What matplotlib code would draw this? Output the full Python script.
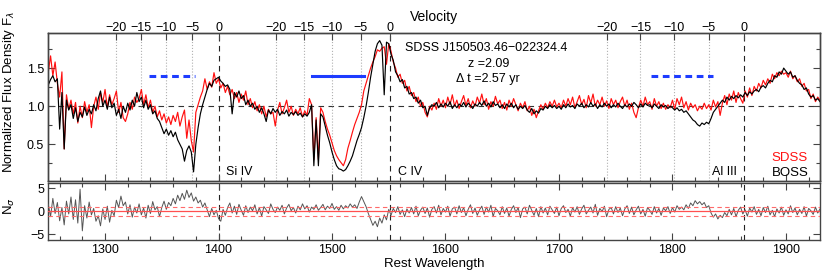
import numpy as np
import matplotlib
matplotlib.use('Agg')
import matplotlib.pyplot as plt
from matplotlib.ticker import MultipleLocator, FixedLocator, NullLocator

plt.rcParams['font.family'] = ['Liberation Sans', 'DejaVu Sans']

# ---------------- data ----------------
wl_start = 1250.0   # Angstrom, rest frame
wl_step = 2.0

boss = [
    1.28, 1.35, 1.40, 1.32, 1.36, 0.70, 1.18, 0.44, 1.08, 0.95,
    1.02, 0.84, 0.98, 0.80, 0.92, 0.86, 0.99, 0.88, 0.96, 0.90,
    1.02, 0.94, 1.10, 1.20, 1.00, 1.08, 0.96, 1.12, 0.98, 1.04,
    0.88, 0.96, 0.84, 1.00, 0.92, 1.04, 0.95, 1.08, 1.00, 1.18,
    1.06, 1.12, 0.98, 1.08, 0.96, 1.02, 0.90, 0.94, 0.84, 0.80,
    0.72, 0.64, 0.70, 0.62, 0.68, 0.60, 0.66, 0.56, 0.50, 0.44,
    0.28, 0.42, 0.48, 0.40, 0.14, 0.50, 0.72, 0.90, 1.02, 1.12,
    1.22, 1.30, 1.26, 1.34, 1.36, 1.38, 1.33, 1.30, 1.26, 1.28,
    1.22, 0.90, 1.18, 1.12, 1.20, 1.10, 1.14, 1.02, 1.08, 1.00,
    1.04, 0.96, 1.00, 0.92, 0.98, 0.90, 0.80, 0.95, 0.90, 0.97,
    0.92, 0.96, 0.88, 0.93, 0.90, 0.95, 0.87, 0.92, 0.89, 0.93,
    0.88, 0.91, 0.86, 0.90, 0.87, 0.92, 1.02, 0.22, 0.82, 0.22,
    0.90, 0.86, 0.74, 0.62, 0.52, 0.40, 0.30, 0.22, 0.18, 0.17,
    0.15, 0.17, 0.22, 0.28, 0.35, 0.45, 0.55, 0.63, 0.72, 0.85,
    1.00, 1.18, 1.38, 1.55, 1.72, 1.82, 1.86, 1.80, 1.15, 1.84,
    1.82, 1.68, 1.60, 1.45, 1.40, 1.32, 1.35, 1.24, 1.26, 1.16,
    1.18, 1.10, 1.12, 1.04, 1.08, 0.98, 1.00, 0.88, 0.98, 1.02,
    1.00, 1.05, 0.98, 1.03, 0.99, 1.04, 1.00, 1.06, 0.97, 1.02,
    0.98, 1.03, 1.00, 1.05, 0.99, 1.04, 1.01, 0.97, 1.03, 1.00,
    1.05, 1.01, 1.07, 1.00, 1.04, 0.99, 1.06, 1.01, 1.03, 0.98,
    1.02, 0.97, 1.03, 0.99, 1.04, 0.98, 1.02, 0.96, 1.00, 0.97,
    1.01, 0.95, 0.92, 0.97, 0.90, 0.94, 0.91, 0.97, 0.95, 1.00,
    0.97, 1.02, 0.98, 1.01, 0.97, 1.00, 0.96, 1.02, 0.98, 1.03,
    0.99, 1.01, 0.97, 1.03, 1.00, 1.04, 0.98, 1.02, 0.99, 1.05,
    1.00, 1.03, 0.97, 1.02, 0.99, 1.04, 1.00, 1.03, 0.98, 1.02,
    0.99, 1.04, 1.00, 0.97, 1.02, 0.99, 1.03, 1.00, 1.05, 1.02,
    0.98, 1.03, 0.99, 1.04, 1.01, 1.02, 0.98, 1.03, 1.00, 0.97,
    1.02, 0.99, 1.01, 0.97, 1.00, 0.98, 0.95, 0.98, 0.94, 0.96,
    0.92, 0.94, 0.90, 0.86, 0.82, 0.80, 0.76, 0.74, 0.78, 0.76,
    0.79, 0.77, 0.84, 0.92, 0.96, 1.00, 1.04, 1.08, 1.05, 1.12,
    1.08, 1.13, 1.10, 1.14, 1.11, 1.15, 1.12, 1.18, 1.14, 1.19,
    1.16, 1.20, 1.22, 1.19, 1.25, 1.27, 1.24, 1.30, 1.34, 1.32,
    1.40, 1.38, 1.45, 1.42, 1.50, 1.46, 1.42, 1.45, 1.38, 1.40,
    1.34, 1.30, 1.28, 1.22, 1.24, 1.16, 1.12, 1.14, 1.08, 1.10,
    1.06,
]

sdss = [
    1.45, 1.66, 1.40, 1.58, 1.30, 1.12, 1.45, 0.44, 1.15, 0.96,
    1.08, 0.90, 1.05, 0.78, 1.00, 0.85, 1.06, 0.92, 1.02, 0.72,
    1.00, 1.12, 0.96, 1.18, 1.05, 1.22, 0.98, 1.15, 1.02, 1.10,
    1.20, 0.92, 1.05, 0.85, 0.80, 0.90, 1.05, 0.96, 1.12, 1.05,
    1.10, 1.22, 1.02, 1.15, 0.98, 1.08, 0.92, 1.00, 0.86, 0.94,
    0.82, 0.90, 0.78, 0.86, 0.76, 0.88, 0.80, 0.92, 0.74, 0.86,
    0.95, 0.58, 0.82, 0.55, 0.40, 0.92, 1.02, 1.12, 1.20, 1.36,
    1.22, 1.32, 1.25, 1.44, 1.30, 1.36, 1.24, 1.30, 1.18, 1.26,
    1.15, 1.22, 1.10, 1.18, 1.05, 1.16, 1.08, 1.20, 1.02, 1.10,
    0.98, 1.06, 0.94, 1.02, 0.90, 1.00, 0.86, 0.96, 0.90, 0.92,
    0.74, 0.95, 1.05, 0.90, 0.98, 1.08, 0.92, 1.00, 0.88, 0.96,
    0.90, 0.98, 0.86, 0.94, 0.88, 1.10, 1.02, 0.30, 0.85, 0.30,
    0.98, 0.92, 0.80, 0.70, 0.62, 0.52, 0.42, 0.35, 0.30, 0.26,
    0.22, 0.30, 0.45, 0.55, 0.66, 0.76, 0.84, 0.92, 1.02, 1.20,
    1.30, 1.40, 1.50, 1.58, 1.65, 1.74, 1.72, 1.76, 1.78, 1.55,
    1.82, 1.72, 1.58, 1.50, 1.38, 1.42, 1.30, 1.34, 1.20, 1.26,
    1.14, 1.18, 1.06, 1.12, 1.00, 1.05, 0.92, 0.86, 1.00, 0.95,
    1.04, 0.96, 1.10, 1.00, 1.08, 0.98, 1.12, 1.02, 1.15, 1.00,
    1.08, 0.97, 1.06, 1.14, 1.01, 1.10, 0.98, 1.07, 1.00, 1.12,
    1.04, 1.16, 1.02, 1.10, 0.96, 1.06, 1.00, 1.13, 1.03, 1.08,
    0.97, 1.05, 0.95, 1.08, 1.00, 1.10, 1.02, 0.94, 1.04, 0.98,
    1.06, 0.94, 1.00, 0.88, 0.96, 0.85, 0.94, 1.02, 0.96, 1.04,
    0.98, 1.06, 1.00, 1.08, 0.99, 1.04, 0.98, 1.08, 1.00, 1.10,
    1.02, 1.12, 0.98, 1.06, 1.14, 1.02, 1.09, 0.98, 1.14, 1.04,
    1.16, 1.00, 1.08, 1.02, 1.12, 1.00, 1.07, 0.97, 1.10, 1.02,
    1.08, 0.98, 1.06, 1.12, 1.00, 1.08, 0.96, 1.04, 0.92, 0.85,
    0.98, 1.08, 1.00, 1.12, 1.02, 1.06, 0.96, 1.10, 1.00, 1.06,
    0.97, 1.04, 0.96, 1.02, 0.98, 1.08, 0.96, 1.10, 1.02, 1.12,
    0.98, 1.06, 0.95, 1.04, 0.98, 1.02, 0.94, 1.00, 0.96, 1.04,
    0.97, 1.02, 0.95, 1.08, 0.99, 1.06, 0.88, 1.04, 1.14, 1.02,
    1.16, 1.08, 1.20, 1.05, 1.18, 1.10, 1.04, 1.20, 1.12, 1.24,
    1.14, 1.26, 1.20, 1.30, 1.24, 1.34, 1.28, 1.36, 1.30, 1.42,
    1.36, 1.44, 1.40, 1.46, 1.42, 1.44, 1.38, 1.46, 1.36, 1.40,
    1.32, 1.36, 1.26, 1.30, 1.20, 1.22, 1.10, 1.16, 1.06, 1.12,
    1.08,
]

nsigma = [
    1.5, -1.2, 2.8, -0.5, 1.9, -2.1, 0.8, -3.0, 2.2, -0.6,
    3.1, -1.8, 2.5, -2.6, 4.8, -4.3, 1.2, -1.5, 2.0, -0.8,
    0.6, -2.2, -1.0, -3.2, 0.5, -1.8, 1.1, -2.4, 0.2, -1.0,
    2.4, 0.8, 3.3, 1.2, 2.0, -0.6, 1.4, -1.3, 0.9, -0.4,
    1.6, -0.8, 0.7, -1.5, 1.3, -0.5, 2.1, 0.3, 1.0, -1.2,
    0.8, 2.2, 0.4, 1.9, 1.2, 2.8, 1.6, 3.5, 2.3, 3.9,
    2.6, 4.6, 3.0, 4.0, 2.2, 3.1, 1.8, 2.4, 0.9, 1.8,
    0.3, -1.2, 0.6, -0.8, 0.2, -1.6, -2.2, 0.4, -0.9, 0.8,
    1.8, -0.4, 1.1, -0.7, 1.5, 0.2, -0.9, 1.2, -0.3, 0.9,
    0.1, 1.4, -0.6, 0.8, -1.1, 1.0, 0.3, -0.5, 1.6, 0.4,
    -0.3, 0.9, 0.2, 1.3, -0.6, 0.7, 1.5, 0.1, 0.8, -0.4,
    1.1, 0.3, 1.6, 0.5, 1.2, -0.2, 0.9, 0.4, 1.4, 0.2,
    0.8, 1.5, 0.3, 1.1, 0.6, 1.7, 0.4, 1.0, 0.2, 1.3,
    0.5, 1.2, 0.7, 1.6, 0.9, 1.4, 0.6, 2.0, 3.2, 2.1,
    1.0, -0.5, -1.8, -3.1, -2.2, -3.4, -1.5, -2.6, -0.8, -1.9,
    0.4, -0.9, 0.6, -0.3, 1.0, -0.7, 0.3, -1.2, 0.5, -0.4,
    0.8, -0.6, 1.1, -1.0, 0.2, 0.9, -0.5, 0.7, -1.3, 0.4,
    1.0, -0.4, 1.3, -0.8, 0.6, -0.2, 1.1, -1.1, 0.5, 0.9,
    -0.6, 1.2, -0.3, 0.8, -1.0, 0.4, 1.4, -0.5, 0.7, -0.9,
    0.3, 1.1, -0.7, 0.9, -0.2, 1.3, -1.2, 0.6, 0.1, -0.8,
    1.0, -0.5, 0.7, -1.1, 0.4, 1.2, -0.3, 0.8, -1.4, 0.5,
    0.9, -0.6, 1.3, 0.2, -0.9, 0.6, -1.2, 1.0, -0.4, 0.7,
    -0.8, 1.1, 0.3, -0.5, 0.9, -1.0, 0.6, 1.2, -0.3, 0.4,
    -1.1, 0.8, -0.2, 1.0, -0.7, 0.5, 1.3, -0.6, 0.2, 0.9,
    -0.4, 1.5, -0.9, 0.6, -0.1, 1.1, -1.2, 0.4, 0.8, -0.6,
    1.0, -0.3, 0.7, -1.0, 0.5, 1.2, -0.5, 0.9, -0.8, 0.3,
    1.1, -0.6, 0.4, -1.1, 0.8, 0.2, -0.7, 1.0, -0.4, 0.6,
    -0.9, 0.7, 0.1, 1.0, -0.5, 0.8, -0.2, 1.2, 0.4, 0.9,
    0.3, 1.4, 0.6, 1.8, 1.2, 2.3, 1.6, 2.1, 1.4, 1.9,
    0.8, 1.2, -0.4, -1.3, -0.6, -1.7, -0.9, -1.4, -0.3, -1.0,
    0.4, -0.8, 0.6, -1.2, 0.2, 0.9, -0.6, 0.3, -1.1, 0.7,
    -0.2, 1.0, -0.7, 0.4, -1.0, 0.8, -0.3, 1.1, -0.8, 0.2,
    -1.2, 0.5, -0.4, 0.9, -0.9, 0.3, -0.6, 1.2, -0.3, 0.7,
    -0.8, 0.4, -0.5, 1.0, -1.1, 0.6, 0.1, -0.7, 0.9, -0.4,
    0.5,
]

line_names = ['Si IV', 'C IV', 'Al III']
line_rest = [1400.0, 1550.77, 1862.79]          # Angstrom
vel_ticks = [-20, -15, -10, -5, 0]               # 1000 km/s
bal_vel = [-13.5, -4.4]                          # 1000 km/s
bal_styles = ['--', '-', '--']
obj_name = 'SDSS J150503.46\u2212022324.4'
z_text = 'z =2.09'
dt_text = '\u0394 t =2.57 yr'

# ---------------- helpers ----------------
C_KMS = 299792.458


def vel_to_wave(v_kkms, lam0):
    b = np.asarray(v_kkms, dtype=float) * 1000.0 / C_KMS
    return lam0 * np.sqrt((1 + b) / (1 - b))


n = min(len(boss), len(sdss), len(nsigma))
wave = wl_start + wl_step * np.arange(n)
boss_a = np.asarray(boss[:n])
sdss_a = np.asarray(sdss[:n])
ns_a = np.asarray(nsigma[:n])

W, H = 830, 278
fig = plt.figure(figsize=(W / 100, H / 100), dpi=100)
x0, x1 = 48.3, 820.0
ax1 = fig.add_axes([x0 / W, 1 - 181 / H, (x1 - x0) / W, 148 / H])
ax2 = fig.add_axes([x0 / W, 1 - 240 / H, (x1 - x0) / W, (240 - 183.3) / H])

frame_c = '#444444'
xlim = (1250, 1930)

# ---------------- top panel ----------------
ax1.set_xlim(xlim)
ax1.set_ylim(0.02, 1.96)
ax1.axhline(1.0, color='#333333', ls=(0, (5, 4)), lw=0.8, zorder=1)
for name, lam0 in zip(line_names, line_rest):
    for v in vel_ticks[:-1]:
        ax1.axvline(vel_to_wave(v, lam0), color='#b0b0b0', ls=':', lw=0.8, zorder=1)
    for ax in (ax1, ax2):
        ax.axvline(lam0, color='#222222', ls=(0, (5, 4)), lw=0.8, zorder=1)

ax1.plot(wave, sdss_a, color='#ff1010', lw=0.85, zorder=3)
ax1.plot(wave, boss_a, color='black', lw=0.85, zorder=4)

for lam0, st in zip(line_rest, bal_styles):
    wl_bal = vel_to_wave(bal_vel, lam0)
    if st == '--':
        ax1.plot(wl_bal, [1.4, 1.4], color='#1e3cff', lw=2.2, ls=(0, (2.2, 1.5)), zorder=5)
    else:
        ax1.plot(wl_bal, [1.4, 1.4], color='#1e3cff', lw=2.2, ls='-', zorder=5)

ax1.yaxis.set_major_locator(FixedLocator([0.5, 1.0, 1.5]))
ax1.yaxis.set_minor_locator(MultipleLocator(0.25))
ax1.xaxis.set_major_locator(MultipleLocator(100))
ax1.xaxis.set_minor_locator(MultipleLocator(20))
ax1.tick_params(axis='both', which='both', direction='in', colors=frame_c,
                labelcolor='black', top=False, right=True)
ax1.tick_params(axis='both', which='major', length=5, width=0.8, labelsize=9, pad=3)
ax1.tick_params(axis='both', which='minor', length=3, width=0.8)
ax1.tick_params(axis='x', labelbottom=False)
ax1.set_ylabel('Normalized Flux Density F$_\\lambda$', fontsize=9.5)
ax1.yaxis.set_label_coords(-0.041, 0.6)

# text annotations
ax1.text(0.567, 0.899, obj_name, transform=ax1.transAxes, ha='center', va='center', fontsize=9)
ax1.text(0.571, 0.790, z_text, transform=ax1.transAxes, ha='center', va='center', fontsize=9)
ax1.text(0.569, 0.689, dt_text, transform=ax1.transAxes, ha='center', va='center', fontsize=9)
ax1.text(1407.0, 0.135, 'Si IV', ha='left', va='center', fontsize=9)
ax1.text(1558.5, 0.135, 'C IV', ha='left', va='center', fontsize=9)
ax1.text(1835.2, 0.135, 'Al III', ha='left', va='center', fontsize=9)
ax1.text(1887.5, 0.32, 'SDSS', color='#ff1010', ha='left', va='center', fontsize=9.5)
ax1.text(1887.5, 0.12, 'BOSS', color='black', ha='left', va='center', fontsize=9.5)

# top velocity axis
axv = ax1.twiny()
axv.set_xlim(xlim)
vpos, vlab = [], []
for lam0 in line_rest:
    for v in vel_ticks:
        vpos.append(float(vel_to_wave(v, lam0)))
        vlab.append('\u2212%d' % abs(v) if v < 0 else '%d' % v)
axv.xaxis.set_major_locator(FixedLocator(vpos))
axv.set_xticklabels(vlab)
axv.xaxis.set_minor_locator(NullLocator())
axv.tick_params(axis='x', direction='in', length=5, width=0.8, colors=frame_c,
                labelcolor='black', labelsize=9, pad=-1)
axv.set_xlabel('Velocity', fontsize=10, labelpad=1)

for ax in (ax1, axv, ax2):
    for s in ax.spines.values():
        s.set_color(frame_c)
        s.set_linewidth(1.0)

# ---------------- bottom panel ----------------
ax2.set_xlim(xlim)
ax2.set_ylim(-6.3, 6.1)
ax2.plot(wave, ns_a, color='#555555', lw=0.7, zorder=3)
ax2.axhline(0, color='#ff5050', lw=0.9, zorder=4)
ax2.axhline(1, color='#ff6a6a', lw=0.8, ls=(0, (4, 3)), zorder=4)
ax2.axhline(-1, color='#ff6a6a', lw=0.8, ls=(0, (4, 3)), zorder=4)
ax2.yaxis.set_major_locator(FixedLocator([-5, 0, 5]))
ax2.xaxis.set_major_locator(MultipleLocator(100))
ax2.xaxis.set_minor_locator(MultipleLocator(20))
ax2.tick_params(axis='both', which='both', direction='in', colors=frame_c,
                labelcolor='black', top=True, right=True)
ax2.tick_params(axis='both', which='major', length=5, width=0.8, labelsize=9, pad=3)
ax2.tick_params(axis='both', which='minor', length=3, width=0.8)
ax2.set_yticklabels(['\u22125', '0', '5'])
ax2.set_ylabel('N$_\\sigma$', fontsize=9.5)
ax2.yaxis.set_label_coords(-0.041, 0.6)
ax2.set_xlabel('Rest Wavelength', fontsize=9.5, labelpad=1)

fig.savefig('out.png', dpi=100)
